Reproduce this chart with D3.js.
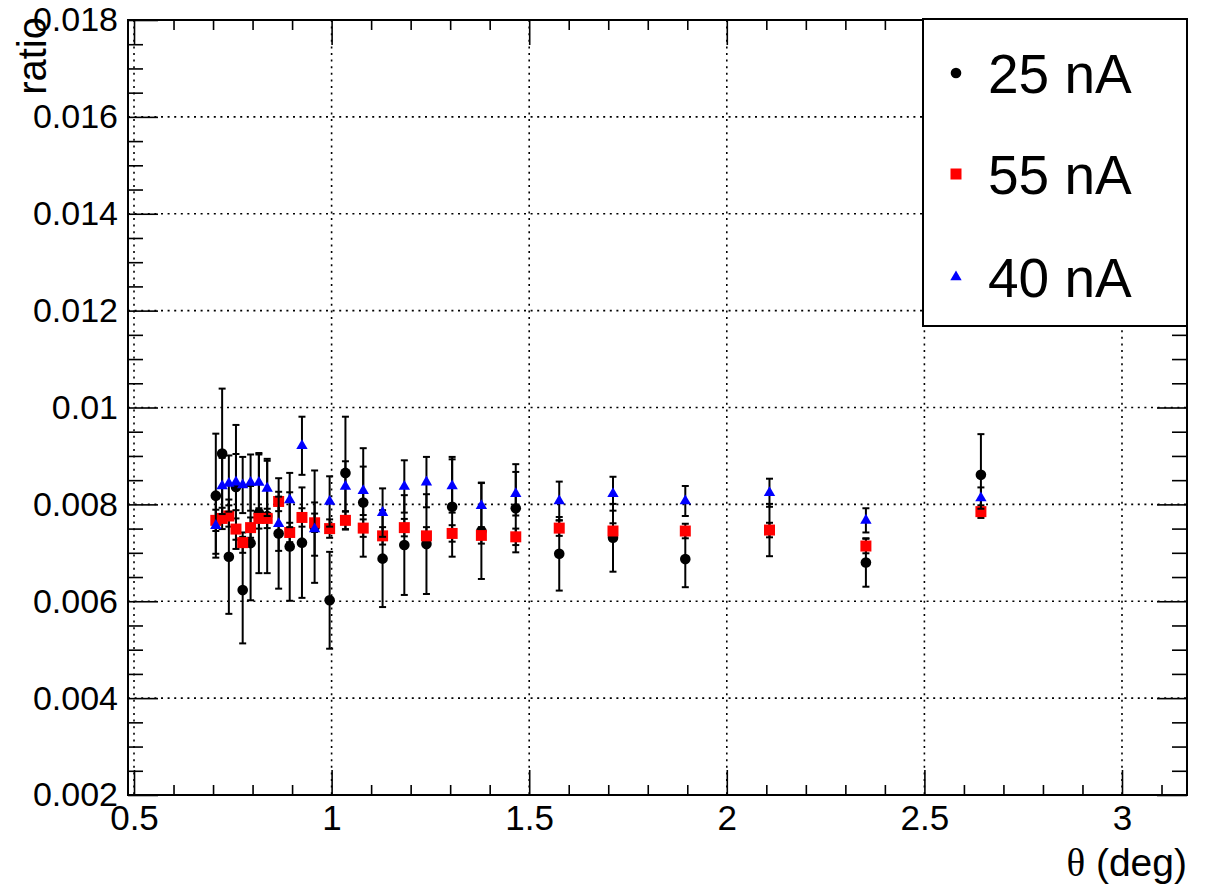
<!DOCTYPE html>
<html>
<head>
<meta charset="utf-8">
<script src="https://cdn.jsdelivr.net/npm/d3@7"></script>
<style>
  html, body { margin: 0; padding: 0; background: #fff; }
  svg { display: block; }
  text { font-family: "Liberation Sans", Arial, Helvetica, sans-serif; fill: #000; }
</style>
</head>
<body>
<svg id="chart" width="1214" height="888"></svg>
<script>
// ---- data ----
const theta = [0.707,0.723,0.740,0.758,0.775,0.795,0.816,0.837,0.866,0.894,0.925,0.957,0.995,1.035,1.080,1.129,1.184,1.240,1.305,1.379,1.466,1.576,1.712,1.895,2.108,2.352,2.643];

const ratio25 = [0.00818,0.00905,0.00692,0.00836,0.00623,0.00720,0.00782,0.00776,0.00740,0.00713,0.00721,0.00754,0.00602,0.00865,0.00804,0.00688,0.00716,0.00718,0.00795,0.00745,0.00792,0.00698,0.00731,0.00687,0.00747,0.00680,0.00861];
const err25   = [0.00128,0.00134,0.00118,0.00128,0.00110,0.00118,0.00124,0.00118,0.00114,0.00112,0.00114,0.00116,0.00100,0.00116,0.00112,0.00100,0.00103,0.00103,0.00103,0.00099,0.00091,0.00076,0.00070,0.00058,0.00054,0.00050,0.00084];

const ratio55 = [0.00767,0.00771,0.00776,0.00749,0.00721,0.00752,0.00771,0.00771,0.00806,0.00742,0.00773,0.00762,0.00750,0.00767,0.00751,0.00735,0.00752,0.00735,0.00740,0.00736,0.00733,0.00751,0.00745,0.00745,0.00747,0.00714,0.00785];
const err55   = [0.00022,0.00022,0.00022,0.00022,0.00021,0.00021,0.00021,0.00020,0.00020,0.00020,0.00019,0.00019,0.00019,0.00019,0.00018,0.00018,0.00018,0.00018,0.00017,0.00017,0.00017,0.00016,0.00016,0.00015,0.00015,0.00015,0.00013];

const ratio40 = [0.00756,0.00838,0.00843,0.00846,0.00840,0.00845,0.00845,0.00833,0.00760,0.00809,0.00921,0.00749,0.00806,0.00837,0.00828,0.00783,0.00837,0.00846,0.00838,0.00797,0.00822,0.00807,0.00822,0.00807,0.00824,0.00767,0.00813];
const err40   = [0.00058,0.00058,0.00058,0.00058,0.00058,0.00058,0.00058,0.00057,0.00056,0.00056,0.00060,0.00055,0.00052,0.00052,0.00050,0.00050,0.00054,0.00052,0.00055,0.00048,0.00045,0.00040,0.00035,0.00031,0.00029,0.00025,0.00022];

const seriesNames = ["25 nA", "55 nA", "40 nA"];
const xTickValues = [0.5, 1, 1.5, 2, 2.5, 3];
const xTickLabels = ["0.5", "1", "1.5", "2", "2.5", "3"];
const yTickValues = [0.002, 0.004, 0.006, 0.008, 0.010, 0.012, 0.014, 0.016, 0.018];
const yTickLabels = ["0.002", "0.004", "0.006", "0.008", "0.01", "0.012", "0.014", "0.016", "0.018"];
const xTitle = "(deg)";
const yTitle = "ratio";

// ---- layout ----
const L = 128, R = 1187, T = 20, B = 795;
const svg = d3.select("#chart");
svg.append("rect").attr("width", 1214).attr("height", 888).attr("fill", "#fff");

const x = d3.scaleLinear().domain([0.4848, 3.1645]).range([L, R]);
const y = d3.scaleLinear().domain([0.002, 0.018]).range([B, T]);

const xMinor = d3.range(0.5, 3.2, 0.1).filter(v => x(v) <= R + 0.5 && Math.abs(v * 2 - Math.round(v * 2)) > 1e-6);
const yMinor = d3.range(0.002, 0.0181, 0.0005).filter(v => Math.abs(v / 0.002 - Math.round(v / 0.002)) > 1e-6);

// grid
const grid = svg.append("g").attr("stroke", "#000").attr("stroke-width", 1.6).attr("stroke-dasharray", "2,4.6");
grid.selectAll("line.gx").data(xTickValues).join("line")
  .attr("x1", d => x(d)).attr("x2", d => x(d)).attr("y1", T).attr("y2", B);
grid.selectAll("line.gy").data(yTickValues).join("line")
  .attr("x1", L).attr("x2", R).attr("y1", d => y(d)).attr("y2", d => y(d));

// axes (ticks inward)
function styleAxis(g) {
  g.select(".domain").remove();
  g.selectAll(".tick line").attr("stroke", "#000").attr("stroke-width", 1.6);
}
const fmtX = d => xTickLabels[xTickValues.indexOf(d)];
const fmtY = d => { const i = yTickValues.findIndex(v => Math.abs(v - d) < 1e-9); return i >= 0 ? yTickLabels[i] : ""; };

svg.append("g").attr("transform", `translate(0,${B})`)
  .call(d3.axisBottom(x).tickValues(xTickValues).tickSize(-25).tickPadding(10).tickFormat(fmtX))
  .call(styleAxis)
  .call(g => g.selectAll("text").style("font-size", "35px"));
svg.append("g").attr("transform", `translate(0,${B})`)
  .call(d3.axisBottom(x).tickValues(xMinor).tickSize(-10).tickFormat(""))
  .call(styleAxis);
svg.append("g").attr("transform", `translate(0,${T})`)
  .call(d3.axisTop(x).tickValues(xTickValues).tickSize(-25).tickFormat(""))
  .call(styleAxis);
svg.append("g").attr("transform", `translate(0,${T})`)
  .call(d3.axisTop(x).tickValues(xMinor).tickSize(-10).tickFormat(""))
  .call(styleAxis);

svg.append("g").attr("transform", `translate(${L},0)`)
  .call(d3.axisLeft(y).tickValues(yTickValues).tickSize(-30).tickPadding(10).tickFormat(fmtY))
  .call(styleAxis)
  .call(g => g.selectAll("text").style("font-size", "34px"));
svg.append("g").attr("transform", `translate(${L},0)`)
  .call(d3.axisLeft(y).tickValues(yMinor).tickSize(-15).tickFormat(""))
  .call(styleAxis);
svg.append("g").attr("transform", `translate(${R},0)`)
  .call(d3.axisRight(y).tickValues(yTickValues).tickSize(-30).tickFormat(""))
  .call(styleAxis);
svg.append("g").attr("transform", `translate(${R},0)`)
  .call(d3.axisRight(y).tickValues(yMinor).tickSize(-15).tickFormat(""))
  .call(styleAxis);

// frame
svg.append("rect").attr("x", L).attr("y", T).attr("width", R - L).attr("height", B - T)
  .attr("fill", "none").attr("stroke", "#000").attr("stroke-width", 2);

// axis titles
const xt = svg.append("text").attr("x", R).attr("y", 876).attr("text-anchor", "end").style("font-size", "39px");
xt.append("tspan").style("font-family", "'Liberation Serif', 'DejaVu Serif', serif").text("θ");
xt.append("tspan").text(" " + xTitle);
svg.append("text").attr("transform", "translate(46,17) rotate(-90)").attr("text-anchor", "end")
  .style("font-size", "40px").text(yTitle);

// markers
const symCircle = d3.symbol().type(d3.symbolCircle).size(Math.PI * 5.3 * 5.3);
const symSquare = d3.symbol().type(d3.symbolSquare).size(11 * 11);
const symTri = d3.symbol().type(d3.symbolTriangle).size(56);

const series = [
  { name: seriesNames[0], vals: ratio25, errs: err25, color: "#000000", sym: symCircle },
  { name: seriesNames[1], vals: ratio55, errs: err55, color: "#ff0000", sym: symSquare },
  { name: seriesNames[2], vals: ratio40, errs: err40, color: "#0000ff", sym: symTri }
];

const capW = 3.5;
series.forEach(s => {
  const pts = theta.map((t, i) => ({ t, v: s.vals[i], e: s.errs[i] }));
  const g = svg.append("g");
  const eb = g.append("g").attr("stroke", "#000").attr("stroke-width", 2);
  pts.forEach(p => {
    const cx = x(p.t), y1 = y(p.v + p.e), y2 = y(p.v - p.e);
    eb.append("line").attr("x1", cx).attr("x2", cx).attr("y1", y1).attr("y2", y2);
    eb.append("line").attr("x1", cx - capW).attr("x2", cx + capW).attr("y1", y1).attr("y2", y1);
    eb.append("line").attr("x1", cx - capW).attr("x2", cx + capW).attr("y1", y2).attr("y2", y2);
  });
  g.selectAll("path.m").data(pts).join("path")
    .attr("d", s.sym())
    .attr("transform", p => `translate(${x(p.t)},${y(p.v)})`)
    .attr("fill", s.color);
});

// legend
const lg = svg.append("g");
lg.append("rect").attr("x", 923).attr("y", 19).attr("width", 264).attr("height", 307)
  .attr("fill", "#fff").attr("stroke", "#000").attr("stroke-width", 2);
const legY = [73, 174, 277];
series.forEach((s, i) => {
  lg.append("path").attr("d", s.sym()).attr("transform", `translate(956,${legY[i]})`).attr("fill", s.color);
  lg.append("text").attr("x", 988).attr("y", legY[i] + 20).style("font-size", "55px").text(s.name);
});
</script>
</body>
</html>
